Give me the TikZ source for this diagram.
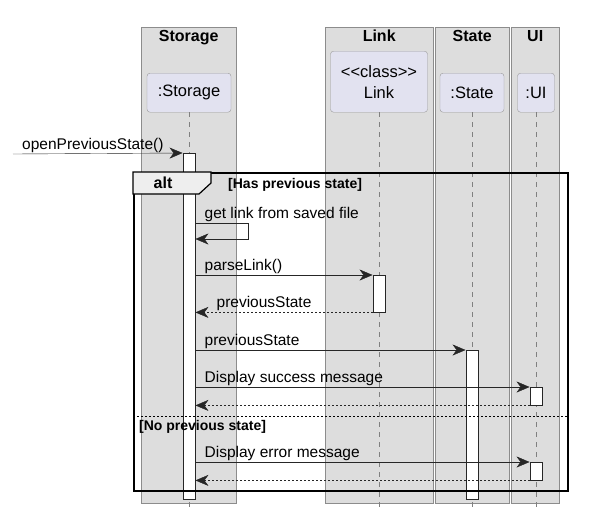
\documentclass[tikz,border=0pt]{standalone}
\usepackage{fontspec}
\setmainfont{Liberation Sans}
\usetikzlibrary{positioning, arrows.meta}
\definecolor{boxgray}{RGB}{221,221,221}
\definecolor{lavender}{RGB}{226,226,240}
\definecolor{tabgray}{RGB}{238,238,238}

\begin{document}
\begin{tikzpicture}[x=1pt, y=-1pt, font=\fontsize{15.5}{18}\selectfont,
  group/.style={draw=black!45, fill=boxgray, inner sep=0pt, anchor=north west},
  grouptitle/.style={font=\bfseries\fontsize{16}{18}\selectfont, inner sep=3pt, anchor=north},
  part/.style={draw=black!40, fill=lavender, rounded corners=3pt, align=center, inner sep=0pt, anchor=north, font=\fontsize{16.5}{21}\selectfont},
  lifeline/.style={draw=black!50, dash pattern=on 5pt off 5pt},
  actbar/.style={draw=black!85, fill=white, minimum width=12.5pt, inner sep=0pt, anchor=north},
  msg/.style={draw=black!85, -{Stealth[length=13pt, width=11pt, inset=4pt]}},
  ret/.style={msg, dash pattern=on 2pt off 2pt},
  lbl/.style={anchor=base west, inner sep=0pt, xshift=9pt, yshift=5pt},
  guard/.style={font=\bfseries\fontsize{14}{16}\selectfont, anchor=base west, inner sep=0pt}]
%
\useasboundingbox (0,0) rectangle (597,523);

% GROUP BOXES
\node [group, minimum width=95pt, minimum height=476pt] (gSto) at (141,27) {};
\node [group, minimum width=108pt, minimum height=476pt] (gLink) at (325,27) {};
\node [group, minimum width=74pt, minimum height=476pt] (gState) at (435,27) {};
\node [group, minimum width=48pt, minimum height=476pt] (gUI) at (511,27) {};
\node [grouptitle] (tSto) at (gSto.north) {Storage};
\node [grouptitle] (tLink) at (gLink.north) {Link};
\node [grouptitle] (tState) at (gState.north) {State};
\node [grouptitle] (tUI) at (gUI.north) {UI};

% PARTICIPANTS
\node [part, minimum width=84pt, minimum height=39pt] (pSto) at (189,73) {:Storage};
\node [part, minimum width=97pt, minimum height=61pt] (pLink) at (379,51) {<\kern0pt<class>\kern0pt>\\Link};
\node [part, minimum width=64pt, minimum height=39pt] (pState) at (472,73) {:State};
\node [part, minimum width=37pt, minimum height=39pt] (pUI) at (536,73) {:UI};

% LIFELINES
\coordinate (eSto) at (189,510);
\coordinate (eLink) at (379,510);
\coordinate (eState) at (472,510);
\coordinate (eUI) at (536,510);
\draw [lifeline] (pSto.south) -- (eSto);
\draw [lifeline] (pLink.south) -- (eLink);
\draw [lifeline] (pState.south) -- (eState);
\draw [lifeline] (pUI.south) -- (eUI);

% ACTIVATIONS
\node [actbar, minimum height=346pt] (aSto) at (189,153) {};
\node [actbar, minimum height=37pt] (aLink) at (379,275) {};
\node [actbar, minimum height=149pt] (aState) at (472,350) {};
\node [actbar, minimum height=18pt] (aUI1) at (536,387) {};
\node [actbar, minimum height=18pt] (aUI2) at (536,462) {};

% ALT FRAME
\node [draw=black, line width=1.6pt, minimum width=434pt, minimum height=318pt, inner sep=0pt, anchor=north west] (alt) at (133,172) {};
\draw [fill=tabgray, draw=black, line width=1.2pt] (alt.north west) -- ++(78,0) -- ++(0,11) -- ++(-12,11) -- ++(-66,0) -- cycle;
\node [font=\bfseries\fontsize{16}{18}\selectfont, inner sep=0pt] (altlbl) at (163,183) {alt};
\node [guard] (g1) at (228,188) {[Has previous state]};
\coordinate (sepL) at (alt.west |- 0,416);
\coordinate (sepR) at (alt.east |- 0,416);
\draw [draw=black, dash pattern=on 2pt off 2pt] (sepL) -- (sepR);
\node [guard] (g2) at (139,430) {[No previous state]};

% MESSAGES
\coordinate (src) at (13,154);
\draw [msg] (src) node [lbl] {openPreviousState()} -- (aSto.north west);

\coordinate (selfA) at (aSto.east |- 0,223);
\coordinate (selfB) at (aSto.east |- 0,239);
\draw [msg] (selfA) node [lbl] {get link from saved file} -- ++(53,0) |- (selfB);

\draw [msg] (aSto.east |- aLink.north) node [lbl] {parseLink()} -- (aLink.north west);
\draw [ret] (aLink.south west) -- (aSto.east |- aLink.south) node [lbl, xshift=12pt] {previousState};

\draw [msg] (aSto.east |- aState.north) node [lbl] {previousState} -- (aState.north west);

\draw [msg] (aSto.east |- aUI1.north) node [lbl] {Display success message} -- (aUI1.north west);
\draw [ret] (aUI1.south west) -- (aSto.east |- aUI1.south);

\draw [msg] (aSto.east |- aUI2.north) node [lbl] {Display error message} -- (aUI2.north west);
\draw [ret] (aUI2.south west) -- (aSto.east |- aUI2.south);
\end{tikzpicture}
\end{document}
